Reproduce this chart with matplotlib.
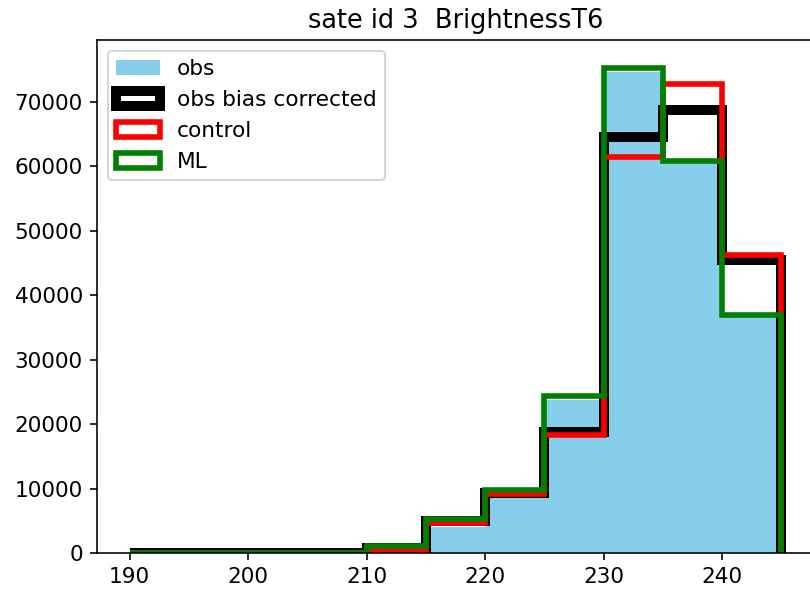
import numpy as np
import matplotlib
matplotlib.use('Agg')
import matplotlib.pyplot as plt

# bin edges (BrightnessT6) and counts per bin
bins = [190, 195, 200, 205, 210, 215, 220, 225, 230, 235, 240, 245]
obs = [0, 0, 0, 0, 400, 4100, 8700, 23800, 74700, 60600, 36700]
obs_bc = [60, 60, 60, 60, 730, 4900, 9300, 18800, 64500, 68800, 45500]
control = [0, 0, 0, 0, 470, 4600, 9200, 18300, 61400, 72800, 46300]
ml = [0, 0, 0, 0, 1150, 5250, 9800, 24300, 75300, 60900, 36900]

centers = np.array(bins[:-1]) + 2.5

plt.rcParams['font.size'] = 10.8
fig = plt.figure(figsize=(810/144, 591/144), dpi=144)
ax = fig.add_axes([97/810, 38/591, 717/810, 513/591])

ax.hist(centers, bins=bins, weights=obs, color='skyblue', label='obs')
ax.hist(centers, bins=bins, weights=obs_bc, histtype='step', color='k', lw=5, label='obs bias corrected')
ax.hist(centers, bins=bins, weights=control, histtype='step', color='r', lw=2.8, label='control')
ax.hist(centers, bins=bins, weights=ml, histtype='step', color='g', lw=2.8, label='ML')

ax.set_ylim(0, 79600)
ax.set_title('sate id 3  BrightnessT6', fontsize=12.8)
ax.legend(loc='upper left')

fig.savefig('out.png', dpi=144)
